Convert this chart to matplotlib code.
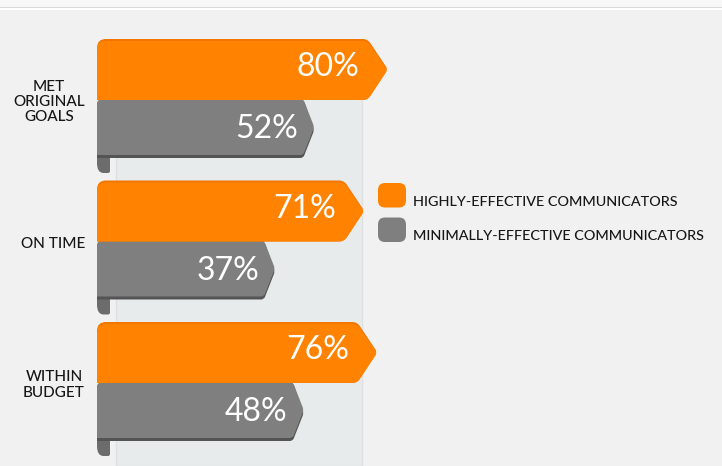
import matplotlib
matplotlib.use('Agg')
import matplotlib.pyplot as plt
from matplotlib.patches import PathPatch, Rectangle, FancyBboxPatch
from matplotlib.path import Path
import matplotlib.transforms as mtransforms

# ---------------- data ----------------
categories = ["MET\nORIGINAL\nGOALS", "ON TIME", "WITHIN\nBUDGET"]
highly_effective = [80, 71, 76]
minimally_effective = [52, 37, 48]
series_names = ["HIGHLY-EFFECTIVE COMMUNICATORS", "MINIMALLY-EFFECTIVE COMMUNICATORS"]

# ---------------- style ----------------
ORANGE = '#ff8300'
ORANGE_EDGE = '#f27600'
GRAY = '#7f7f7f'
GRAY_SHADOW = '#545454'
GRAY_CURL = '#6c6c6c'
PANEL = '#e7ebeb'
BG = '#f1f1f1'
TEXT = '#161616'
FONT = ['Lato', 'DejaVu Sans']

W, H = 722, 466
PX0, PXS = 178.0, 2.62        # pixel of 0 % and pixels per percent (layout of x scale)
BASE = (97 - PX0) / PXS       # bars start a little left of the 0 % line

fig = plt.figure(figsize=(W / 100, H / 100), dpi=100)
fig.patch.set_facecolor(BG)
ax = fig.add_axes([0, 0, 1, 1])
ax.set_axis_off()
ax.set_xlim(-PX0 / PXS, (W - PX0) / PXS)
ax.set_ylim(H, 0)
px = mtransforms.Affine2D().scale(1 / W, -1 / H).translate(0, 1) + fig.transFigure


def rounded(verts, radii):
    """Closed path through verts (x in %, y in px) with rounded corners (radii in px)."""
    n = len(verts)
    pts, codes = [], []
    for i in range(n):
        P = verts[i]
        A = verts[i - 1]
        B = verts[(i + 1) % n]
        r = radii[i]

        def toward(Q):
            dx = (Q[0] - P[0]) * PXS
            dy = Q[1] - P[1]
            L = (dx * dx + dy * dy) ** 0.5
            t = min(r / L, 0.5) if L > 0 else 0
            return (P[0] + (Q[0] - P[0]) * t, P[1] + (Q[1] - P[1]) * t)

        p1, p2 = toward(A), toward(B)
        pts.append(p1)
        codes.append(Path.MOVETO if i == 0 else Path.LINETO)
        pts += [P, p2]
        codes += [Path.CURVE3, Path.CURVE3]
    pts.append(pts[0])
    codes.append(Path.CLOSEPOLY)
    return Path(pts, codes)


# ---------------- background decorations ----------------
fig.patches.append(Rectangle((0, 0), W, 7, transform=px, facecolor='#f7f7f7', edgecolor='none'))
fig.patches.append(Rectangle((0, 7), W, 1.2, transform=px, facecolor='#d8d8d8', edgecolor='none'))
fig.patches.append(Rectangle((0, 8.2), W, 1.5, transform=px, facecolor='#ffffff', edgecolor='none'))

# panel behind the bars
ax.add_patch(Rectangle((116, 55), 246, H - 55, transform=px, facecolor=PANEL,
                       edgecolor='#dde1e1', linewidth=1.0, zorder=1))

# ---------------- bars ----------------
for i, (cat, hv, mv) in enumerate(zip(categories, highly_effective, minimally_effective)):
    yg = 99 + i * 141.5
    # gray bar: curl, shadow, body
    curl = rounded([(BASE, yg + 40), ((110 - PX0) / PXS, yg + 40),
                    ((110 - PX0) / PXS, yg + 74), (BASE, yg + 74)], [0, 0, 2, 10])
    ax.add_patch(PathPatch(curl, facecolor=GRAY_CURL, edgecolor='none', zorder=2))
    dg = 11 / PXS
    shadow = rounded([(BASE, yg), (mv - dg, yg), (mv, yg + 31), (mv - dg, yg + 59),
                      (BASE, yg + 59)], [6, 4, 3, 3, 0])
    ax.add_patch(PathPatch(shadow, facecolor=GRAY_SHADOW, edgecolor='none', zorder=3))
    body = rounded([(BASE, yg), (mv - dg, yg), (mv, yg + 28), (mv - dg, yg + 56),
                    (BASE, yg + 56)], [6, 4, 3, 3, 0])
    ax.add_patch(PathPatch(body, facecolor=GRAY, edgecolor='none', zorder=4))

    # orange bar
    do = 20 / PXS
    top = yg - 60
    edge = rounded([(BASE, top), (hv - do, top), (hv, top + 30), (hv - do, yg + 1),
                    (BASE, yg + 1)], [9, 5, 3, 5, 0])
    ax.add_patch(PathPatch(edge, facecolor=ORANGE_EDGE, edgecolor='none', zorder=5))
    ob = rounded([(BASE, top + 2), (hv - do, top + 2), (hv, top + 31), (hv - do, yg + 1),
                  (BASE, yg + 1)], [9, 5, 3, 5, 0])
    ax.add_patch(PathPatch(ob, facecolor=ORANGE, edgecolor='none', zorder=6))

    # value labels
    ax.text(hv - 28 / PXS, top + 28, f"{hv}%", ha='right', va='center', color='white',
            fontsize=23, family=FONT, zorder=7)
    ax.text(mv - 16 / PXS, yg + 30, f"{mv}%", ha='right', va='center', color='white',
            fontsize=23, family=FONT, zorder=7)

    # category label
    ax.text(85, yg + 3, cat, transform=px, ha='right', va='center', multialignment='center',
            color=TEXT, fontsize=11, family=FONT, fontweight='medium', linespacing=1.12,
            zorder=7)

# ---------------- legend ----------------
for j, (name, col) in enumerate(zip(series_names, [ORANGE, GRAY])):
    y0 = 183 + j * 34.5
    fig.patches.append(FancyBboxPatch((378, y0), 28, 24.5, boxstyle='round,pad=0,rounding_size=7',
                                      transform=px, facecolor=col, edgecolor='none'))
    fig.text(413, y0 + 19, name, transform=px, ha='left', va='center', color=TEXT,
             fontsize=10.4, family=FONT, fontweight='medium')

fig.savefig('out.png', dpi=100, facecolor=BG)
